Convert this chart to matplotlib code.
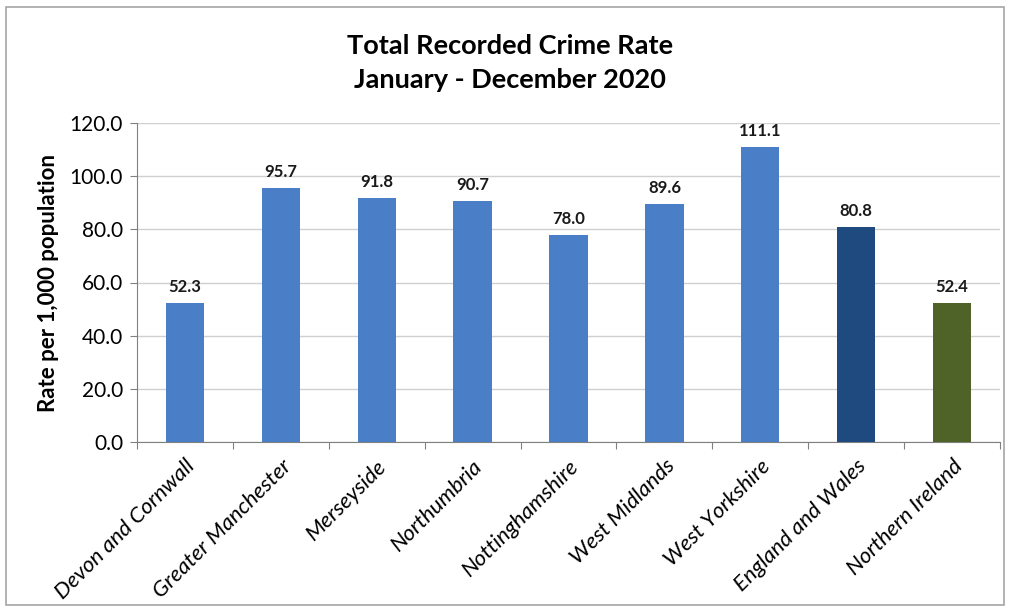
import numpy as np
import matplotlib.pyplot as plt
from matplotlib.patches import Rectangle

areas = ['Devon and Cornwall', 'Greater Manchester', 'Merseyside', 'Northumbria',
         'Nottinghamshire', 'West Midlands', 'West Yorkshire', 'England and Wales',
         'Northern Ireland']
rates = [52.3, 95.7, 91.8, 90.7, 78.0, 89.6, 111.1, 80.8, 52.4]
bar_colors = ['#4a7ec6'] * 7 + ['#1f4a80', '#4f6228']

plt.rcParams['font.family'] = ['Lato', 'DejaVu Sans']

fig = plt.figure(figsize=(10.11, 6.12), dpi=100)
ax = fig.add_axes([137 / 1011, 1 - 442 / 612, (1000 - 137) / 1011, (442 - 123) / 612])

# outer chart border
fig.patches.append(Rectangle((6 / 1011, 7 / 612), 998 / 1011, 598 / 612,
                             transform=fig.transFigure, fill=False,
                             edgecolor='#a6a6a6', linewidth=1.2))

x = np.arange(len(areas))
ax.bar(x, rates, width=0.4, color=bar_colors, zorder=3)
for xi, v in zip(x, rates):
    ax.text(xi, v + 3, f'{v:.1f}', ha='center', va='bottom',
            fontsize=12, fontweight='bold', color='#1a1a1a')

ax.set_xlim(-0.5, len(areas) - 0.5)
ax.set_ylim(0, 120)
ax.set_yticks(np.arange(0, 121, 20))
ax.set_yticklabels([f'{t:.1f}' for t in np.arange(0, 121, 20)], fontsize=15)
ax.yaxis.grid(True, color='#d0d0d0', linewidth=1, zorder=0)

ax.set_xticks(np.arange(-0.5, len(areas), 1))
ax.set_xticklabels([])
ax.set_xticks(x, minor=True)
ax.set_xticklabels(areas, minor=True, rotation=45, ha='right', va='top',
                   rotation_mode='anchor', fontsize=16, fontstyle='italic')
ax.tick_params(axis='x', which='minor', length=0, pad=10)
ax.tick_params(axis='x', which='major', length=5, color='#808080')
ax.tick_params(axis='y', length=5, color='#808080', pad=5)

for s in ['top', 'right']:
    ax.spines[s].set_visible(False)
for s in ['left', 'bottom']:
    ax.spines[s].set_color('#808080')

ax.set_ylabel('Rate per 1,000 population', fontsize=16, fontweight='bold', labelpad=8)

fig.text(510 / 1011, 1 - 46 / 612, 'Total Recorded Crime Rate', ha='center', va='center',
         fontsize=19.5, fontweight='bold')
fig.text(510 / 1011, 1 - 80 / 612, 'January - December 2020', ha='center', va='center',
         fontsize=19.5, fontweight='bold')

fig.savefig('out.png', dpi=100)
